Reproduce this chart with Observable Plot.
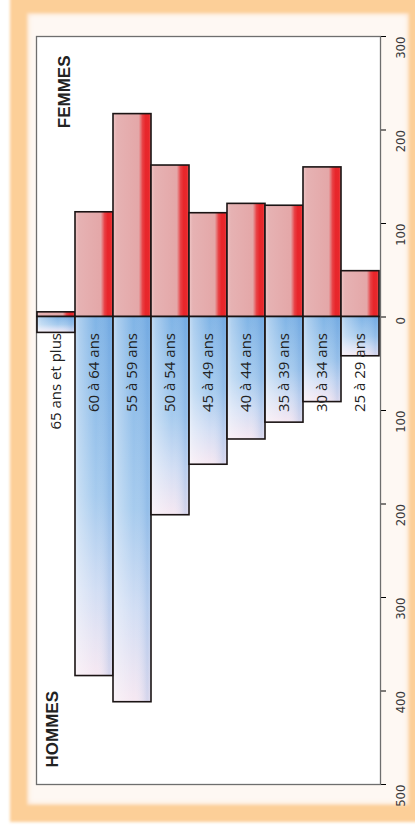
<!DOCTYPE html>
<html>
<head>
<meta charset="utf-8">
<script src="https://cdn.jsdelivr.net/npm/d3@7"></script>
<script src="https://cdn.jsdelivr.net/npm/@observablehq/plot@0.6"></script>
<style>
  html, body { margin: 0; padding: 0; background: #fff; }
  #wrap { position: relative; width: 415px; height: 831px; overflow: hidden; }
  #band {
    position: absolute; left: 10px; top: -4px; width: 416px; height: 826px;
    box-sizing: border-box; border: 17px solid #fccf98; background: #fef8f3;
    box-shadow: inset 0 0 5px rgba(252, 200, 150, 0.8);
    filter: blur(1.4px);
  }
  #chart { position: absolute; left: 0; top: 0; }
</style>
</head>
<body>
<div id="wrap"><div id="band"></div><div id="chart"></div></div>
<script>
// Age groups, oldest on the left
const ageGroups = ["65 ans et plus", "60 à 64 ans", "55 à 59 ans", "50 à 54 ans", "45 à 49 ans",
                   "40 à 44 ans", "35 à 39 ans", "30 à 34 ans", "25 à 29 ans"];
// Headcounts per age group
const femmes = [5, 112, 217, 162, 111, 121, 119, 160, 49];
const hommes = [17, 384, 412, 212, 158, 131, 113, 91, 42];
// Axis graduations (shown as absolute values)
const axisTicks = [300, 200, 100, 0, -100, -200, -300, -400, -500];

const rowsF = ageGroups.map((age, i) => ({age, value: femmes[i]}));
const rowsH = ageGroups.map((age, i) => ({age, value: -hommes[i]}));

const barStroke = {stroke: "#1b1414", strokeWidth: 1.6};

const chart = Plot.plot({
  width: 415,
  height: 831,
  marginLeft: 36,
  marginRight: 35,
  marginTop: 36,
  marginBottom: 47,
  style: {background: "transparent", overflow: "visible"},
  x: {type: "band", domain: ageGroups, padding: 0, axis: null},
  y: {
    domain: [-500, 300],
    ticks: axisTicks,
    tickFormat: () => "",
    axis: "right",
    tickSize: 5,
    label: null
  },
  marks: [
    Plot.frame({fill: "white", stroke: "#6e6e6e", strokeWidth: 1.3}),
    // Women: upward bars
    Plot.barY(rowsF, {x: "age", y1: 0, y2: "value", fill: "url(#gradF)", ...barStroke}),
    // Men: downward bars, vertical fade plus a side sheen
    Plot.barY(rowsH, {x: "age", y1: 0, y2: "value", fill: "url(#gradH)"}),
    Plot.barY(rowsH, {x: "age", y1: 0, y2: "value", fill: "url(#gradHx)", ...barStroke}),
    // Age group names inside the men's bars
    Plot.text(rowsH, {
      x: "age", y: 0, text: "age", rotate: -90, textAnchor: "end", dy: 16,
      fontFamily: "Open Sans", fontSize: 15, fill: "#222", ariaLabel: "age-labels"
    }),
    // Axis graduations, rotated like the rest of the figure
    Plot.text(axisTicks, {
      y: d => d, text: d => Math.abs(d), frameAnchor: "right", rotate: -90, dx: 20,
      fontFamily: "Liberation Sans Narrow, DejaVu Sans Condensed", fontSize: 13, fill: "#3a3a3a"
    }),
    Plot.text(["FEMMES"], {
      frameAnchor: "top-left", text: d => d, rotate: -90, textAnchor: "end",
      dx: 21, dy: 19, fontFamily: "Liberation Sans", fontWeight: "bold", fontSize: 17, fill: "#222"
    }),
    Plot.text(["HOMMES"], {
      frameAnchor: "bottom-left", text: d => d, rotate: -90, textAnchor: "start",
      dx: 21, dy: -17, fontFamily: "Liberation Sans", fontWeight: "bold", fontSize: 17, fill: "#222"
    })
  ]
});

// Gradient definitions used by the bar fills
const svg = d3.select(chart);
svg.select('g[aria-label="age-labels"]').attr("letter-spacing", 0.5);
const defs = svg.insert("defs", ":first-child");
function gradient(id, horizontal, stops) {
  const g = defs.append("linearGradient").attr("id", id)
    .attr("x1", 0).attr("y1", 0).attr("x2", horizontal ? 1 : 0).attr("y2", horizontal ? 0 : 1);
  for (const [o, c, a] of stops) g.append("stop").attr("offset", o).attr("stop-color", c).attr("stop-opacity", a ?? 1);
}
gradient("gradF", true, [
  [0, "#efc6c6"], [0.1, "#e6b2b3"], [0.68, "#e4a7a8"], [0.78, "#e84044"],
  [0.86, "#e8252a"], [0.95, "#e8282c"], [1, "#e86a6a"]
]);
gradient("gradH", false, [
  [0, "#80b4e6"], [0.5, "#a6cbee"], [0.76, "#d2def4"], [1, "#f6e8f2"]
]);
gradient("gradHx", true, [
  [0, "#ffffff", 0.55], [0.12, "#ffffff", 0.35], [0.55, "#ffffff", 0], [0.9, "#3f7fcf", 0.18], [1, "#3f7fcf", 0.1]
]);

document.getElementById("chart").append(chart);
</script>
</body>
</html>
